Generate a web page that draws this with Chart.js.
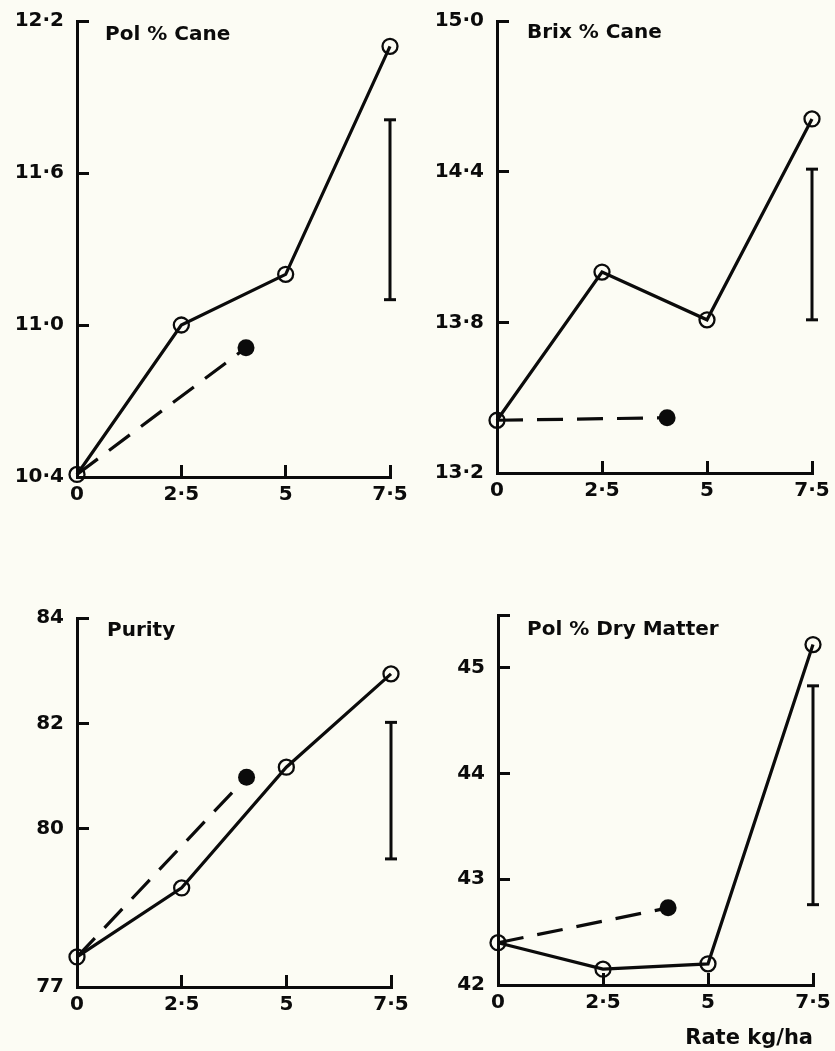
<!DOCTYPE html>
<html>
<head>
<meta charset="utf-8">
<script src="https://cdn.jsdelivr.net/npm/chart.js@4.4.1/dist/chart.umd.min.js"></script>
<style>
  html, body { margin: 0; padding: 0; background: #fcfcf4; }
  #wrap { position: relative; width: 835px; height: 1051px; overflow: hidden; }
  canvas { position: absolute; }
</style>
</head>
<body>
<div id="wrap">
  <canvas id="polCane" width="418" height="525" style="left:0;top:0"></canvas>
  <canvas id="brixCane" width="417" height="525" style="left:418px;top:0"></canvas>
  <canvas id="purity" width="418" height="526" style="left:0;top:525px"></canvas>
  <canvas id="dryMatter" width="417" height="526" style="left:418px;top:525px"></canvas>
</div>
<script>
// Rates (kg/ha) shared by all four panels
const rates = [0, 2.5, 5, 7.5];
const rateLabels = ['0', '2·5', '5', '7·5'];
const partialRates = [0, 4.05];   // dashed series: control and single treatment
const lsdRate = 7.5;              // where the LSD bar stands

// Pol % Cane
const polCaneValues = [10.41, 11.0, 11.2, 12.1];
const polCanePartial = [10.41, 10.91];
const polCaneLsd = [11.1, 11.81];
const polCaneTicks = [10.4, 11.0, 11.6, 12.2];
const polCaneTickLabels = ['10·4', '11·0', '11·6', '12·2'];

// Brix % Cane
const brixValues = [13.41, 14.0, 13.81, 14.61];
const brixPartial = [13.41, 13.42];
const brixLsd = [13.81, 14.41];
const brixTicks = [13.2, 13.8, 14.4, 15.0];
const brixTickLabels = ['13·2', '13·8', '14·4', '15·0'];

// Purity
const purityValues = [77.57, 78.88, 81.17, 82.94];
const purityPartial = [77.57, 80.98];
const purityLsd = [79.43, 82.02];
const purityTicks = [77, 80, 82, 84];
const purityTickLabels = ['77', '80', '82', '84'];

// Pol % Dry Matter
const dryMatterValues = [42.4, 42.15, 42.2, 45.22];
const dryMatterPartial = [42.4, 42.73];
const dryMatterLsd = [42.76, 44.83];
const dryMatterTicks = [42, 43, 44, 45, 45.5];
const dryMatterTickLabels = ['42', '43', '44', '45', ''];

const INK = '#0b0b0b';
const FONT = '"DejaVu Sans", sans-serif';

Chart.defaults.font.family = FONT;
Chart.defaults.color = INK;

// writes the panel name inside the plot area
const panelLabel = {
    id: 'panelLabel',
    afterDraw(chart, args, opts) {
        if (!opts.text) return;
        const { ctx, chartArea } = chart;
        ctx.save();
        ctx.font = 'bold ' + opts.size + 'px ' + FONT;
        ctx.fillStyle = INK;
        ctx.textBaseline = 'middle';
        ctx.textAlign = 'left';
        ctx.fillText(opts.text, chartArea.left + opts.dx, chartArea.top + opts.dy);
        ctx.restore();
    }
};

function points(xs, ys) {
    return xs.map((x, i) => ({ x: x, y: ys[i] }));
}

// the axes get fixed sizes so every plot area lands where the original has it
function noOverhang(s) {
    s.paddingLeft = 0;
    s.paddingRight = 0;
    s.paddingTop = 0;
    s.paddingBottom = 0;
}

function makePanel(id, p) {
    const ctx = document.getElementById(id).getContext('2d');
    return new Chart(ctx, {
        type: 'line',
        data: {
            datasets: [{
                // full rate series, open circles
                data: points(rates, p.values),
                borderColor: INK,
                borderWidth: 3.2,
                pointRadius: 7.5,
                pointBorderWidth: 2.3,
                pointBorderColor: INK,
                pointBackgroundColor: 'rgba(0,0,0,0)',
                tension: 0,
                clip: false,
                order: 0
            }, {
                // dashed series, filled end point
                data: points(partialRates, p.partial),
                borderColor: INK,
                borderWidth: 3.2,
                borderDash: [26, 14],
                pointRadius: [0, 8.5],
                pointBorderWidth: 0,
                pointBackgroundColor: INK,
                tension: 0,
                clip: false,
                order: 1
            }, {
                // LSD bar
                data: points([lsdRate, lsdRate], p.lsd),
                borderColor: INK,
                borderWidth: 3,
                pointStyle: 'line',
                pointRadius: 6,
                pointBorderWidth: 3,
                pointBorderColor: INK,
                clip: false,
                order: 2
            }]
        },
        options: {
            responsive: false,
            devicePixelRatio: 1,
            animation: false,
            events: [],
            layout: { padding: { top: p.top, right: p.right, left: 0, bottom: 0 } },
            plugins: {
                legend: { display: false },
                tooltip: { enabled: false },
                panelLabel: { text: p.label, size: 20, dx: p.labelDx, dy: p.labelDy }
            },
            scales: {
                x: {
                    type: 'linear',
                    min: 0,
                    max: 7.5,
                    afterBuildTicks: (s) => { s.ticks = rates.map(v => ({ value: v })); },
                    afterFit: (s) => { s.height = p.xHeight; noOverhang(s); },
                    ticks: {
                        callback: (v) => rateLabels[rates.indexOf(v)],
                        padding: 18,
                        font: { size: 20, weight: 'bold' },
                        color: INK,
                        maxRotation: 0
                    },
                    grid: { drawOnChartArea: false, tickLength: -12, lineWidth: 3, color: INK },
                    border: { color: INK, width: 3 },
                    title: {
                        display: !!p.xTitle,
                        text: p.xTitle || '',
                        align: 'end',
                        color: INK,
                        font: { size: 21, weight: 'bold' },
                        padding: { top: 0, bottom: 0 }
                    }
                },
                y: {
                    type: 'linear',
                    min: p.ticks[0],
                    max: p.ticks[p.ticks.length - 1],
                    afterBuildTicks: (s) => { s.ticks = p.ticks.map(v => ({ value: v })); },
                    afterFit: (s) => { s.width = p.left; noOverhang(s); },
                    ticks: {
                        callback: (v) => p.tickLabels[p.ticks.indexOf(v)],
                        padding: 25,
                        font: { size: 20, weight: 'bold' },
                        color: INK
                    },
                    grid: { drawOnChartArea: false, tickLength: -12, lineWidth: 3, color: INK },
                    border: { color: INK, width: 3 }
                }
            }
        },
        plugins: [panelLabel]
    });
}

makePanel('polCane', {
    values: polCaneValues, partial: polCanePartial, lsd: polCaneLsd,
    ticks: polCaneTicks, tickLabels: polCaneTickLabels,
    label: 'Pol % Cane', labelDx: 28, labelDy: 14,
    left: 77, right: 28, top: 21, xHeight: 48
});

makePanel('brixCane', {
    values: brixValues, partial: brixPartial, lsd: brixLsd,
    ticks: brixTicks, tickLabels: brixTickLabels,
    label: 'Brix % Cane', labelDx: 30, labelDy: 12,
    left: 79, right: 23, top: 21, xHeight: 52
});

makePanel('purity', {
    values: purityValues, partial: purityPartial, lsd: purityLsd,
    ticks: purityTicks, tickLabels: purityTickLabels,
    label: 'Purity', labelDx: 30, labelDy: 13,
    left: 77, right: 27, top: 93, xHeight: 64
});

makePanel('dryMatter', {
    values: dryMatterValues, partial: dryMatterPartial, lsd: dryMatterLsd,
    ticks: dryMatterTicks, tickLabels: dryMatterTickLabels,
    label: 'Pol % Dry Matter', labelDx: 29, labelDy: 15,
    left: 80, right: 22, top: 90, xHeight: 66,
    xTitle: 'Rate kg/ha'
});
</script>
</body>
</html>
